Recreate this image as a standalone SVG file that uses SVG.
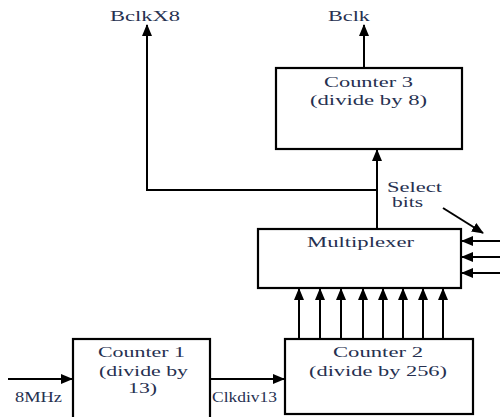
<svg xmlns="http://www.w3.org/2000/svg" width="500" height="417" viewBox="0 0 500 417">
<defs>
<marker id="ah" markerUnits="userSpaceOnUse" markerWidth="12" markerHeight="12" viewBox="0 0 12 12" refX="11" refY="6" orient="auto">
<path d="M0,1 L12,6 L0,11 Z" fill="#000"/>
</marker>
<style>
.box{fill:#fff;stroke:#000;stroke-width:2.2}
.ln{fill:none;stroke:#000;stroke-width:2}
.ar{fill:none;stroke:#000;stroke-width:2;marker-end:url(#ah)}
text{font-family:"Liberation Serif","Times New Roman",serif;font-size:15px;fill:#263050}
</style>
</defs>
<rect width="500" height="417" fill="#fff"/>
<g id="connectors">
<path class="ar" d="M364,68 V25"/>
<path class="ar" d="M377,229 V150"/>
<path class="ar" d="M377,190 H147 V25"/>
<path class="ar" d="M443,208 L483,233"/>
<path class="ar" d="M500,241 H462"/>
<path class="ar" d="M500,257 H462"/>
<path class="ar" d="M500,273 H462"/>
<path class="ar" d="M299,339 V289"/>
<path class="ar" d="M320,339 V289"/>
<path class="ar" d="M341,339 V289"/>
<path class="ar" d="M363,339 V289"/>
<path class="ar" d="M383,339 V289"/>
<path class="ar" d="M403,339 V289"/>
<path class="ar" d="M423,339 V289"/>
<path class="ar" d="M443,339 V289"/>
<path class="ar" d="M8,379 H72"/>
<path class="ar" d="M210,379 H284"/>
</g>
<g id="labels">
<text x="110" y="21" textLength="70" lengthAdjust="spacingAndGlyphs">BclkX8</text>
<text x="328" y="21" textLength="42" lengthAdjust="spacingAndGlyphs">Bclk</text>
<text x="387" y="192" textLength="55" lengthAdjust="spacingAndGlyphs">Select</text>
<text x="392" y="207" textLength="31" lengthAdjust="spacingAndGlyphs">bits</text>
<text x="15" y="402" textLength="47" lengthAdjust="spacingAndGlyphs">8MHz</text>
<text x="212" y="402" textLength="65" lengthAdjust="spacingAndGlyphs">Clkdiv13</text>
</g>
<g id="counter3">
<rect class="box" x="276" y="68" width="186" height="81"/>
<text x="324" y="87" textLength="89" lengthAdjust="spacingAndGlyphs">Counter 3</text>
<text x="310" y="105" textLength="117" lengthAdjust="spacingAndGlyphs">(divide by 8)</text>
</g>
<g id="multiplexer">
<rect class="box" x="258" y="229" width="203" height="59"/>
<text x="307" y="247" textLength="107" lengthAdjust="spacingAndGlyphs">Multiplexer</text>
</g>
<g id="counter2">
<rect class="box" x="285" y="339" width="188" height="75"/>
<text x="333" y="357" textLength="90" lengthAdjust="spacingAndGlyphs">Counter 2</text>
<text x="309" y="376" textLength="138" lengthAdjust="spacingAndGlyphs">(divide by 256)</text>
</g>
<g id="counter1">
<rect class="box" x="73" y="339" width="137" height="90"/>
<text x="98" y="357" textLength="87" lengthAdjust="spacingAndGlyphs">Counter 1</text>
<text x="99" y="376" textLength="89" lengthAdjust="spacingAndGlyphs">(divide by</text>
<text x="128" y="393" textLength="29" lengthAdjust="spacingAndGlyphs">13)</text>
</g>
</svg>
